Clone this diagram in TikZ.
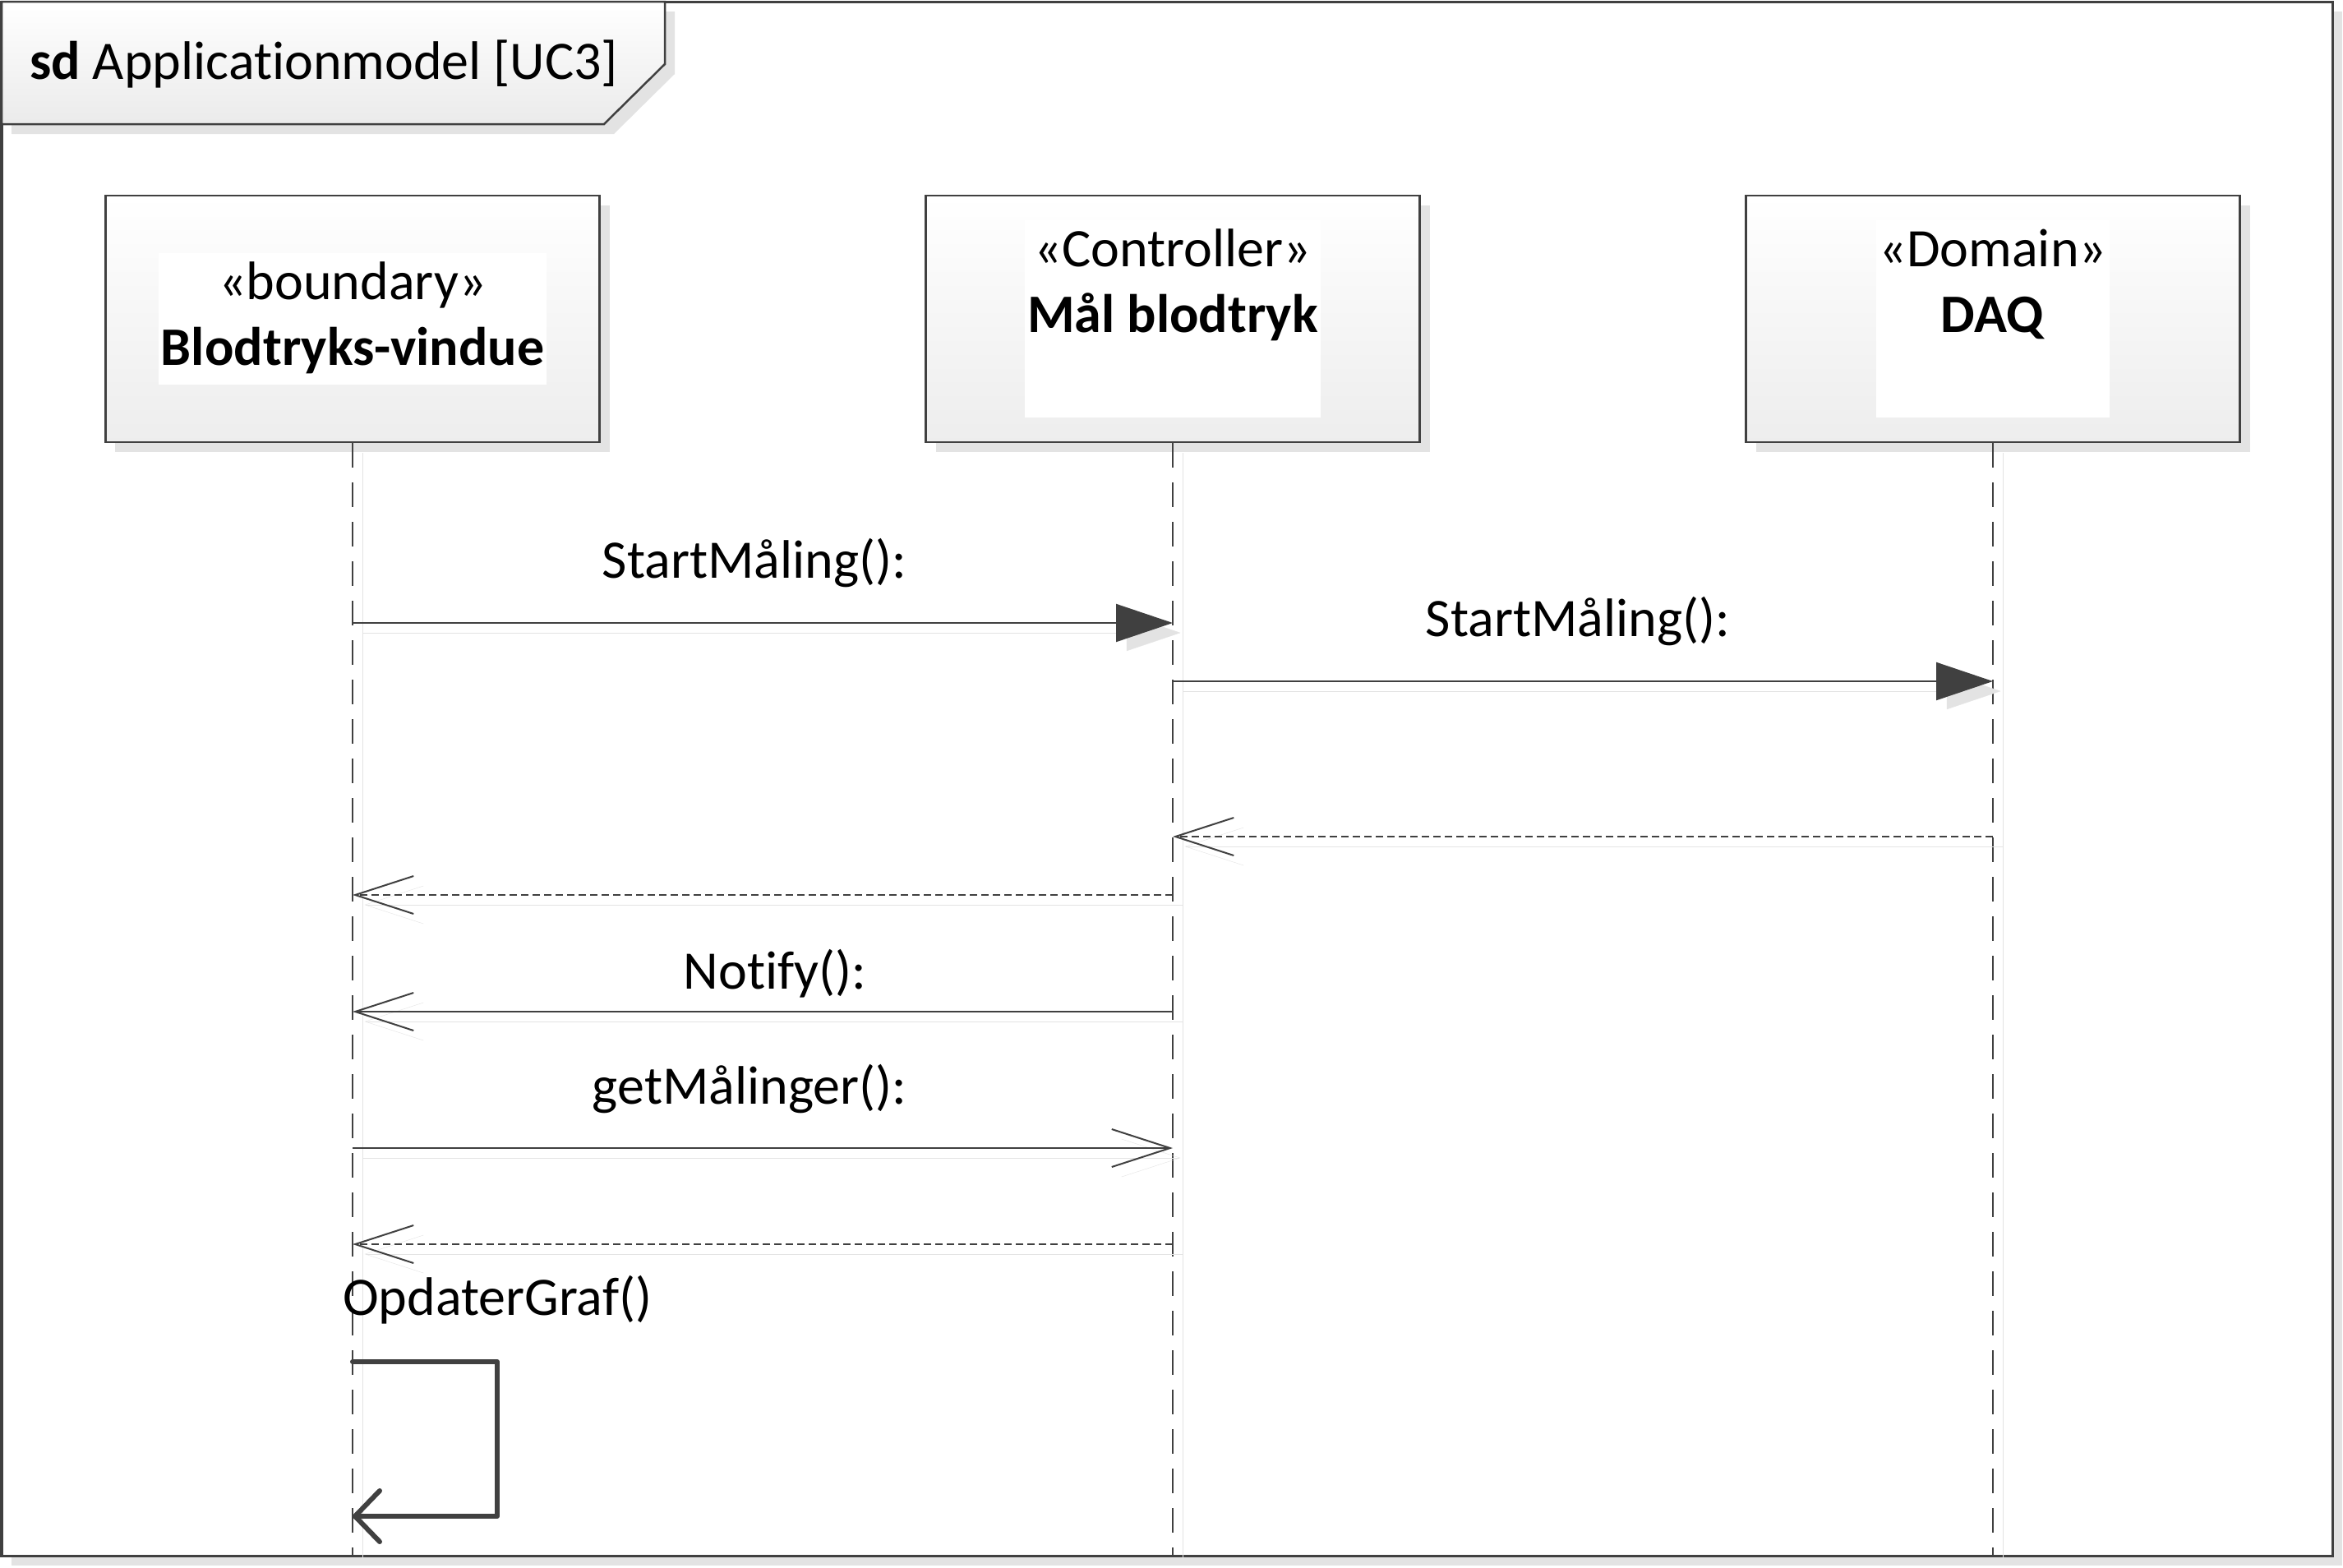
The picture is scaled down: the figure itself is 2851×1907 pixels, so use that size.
\documentclass[tikz,border=0pt]{standalone}
\usepackage{fontspec}
\setmainfont{Carlito}[Ligatures=NoCommon]
\usetikzlibrary{arrows.meta,positioning}

\definecolor{umlline}{HTML}{404040}
\definecolor{umlshade}{HTML}{E3E3E3}

\tikzset{
  boxshadow/.style={preaction={fill=umlshade,draw=none,transform canvas={xshift=12bp,yshift=-12bp}}},
  lineshadow/.style={preaction={draw=umlshade,transform canvas={xshift=12bp,yshift=-12bp}}},
  frame/.style={draw=umlline,line width=3bp,boxshadow},
  headbox/.style={draw=umlline,line width=2.5bp,top color=white,bottom color=black!7,
    minimum width=601bp,minimum height=300bp,inner sep=0bp,boxshadow},
  tag/.style={fill=white,align=center,inner xsep=3bp,inner ysep=0bp},
  msg/.style={anchor=base,inner sep=0bp},
  lifeline/.style={draw=umlline,line width=2bp,dash pattern=on 30bp off 18bp,lineshadow},
  call/.style={draw=umlline,line width=2bp,lineshadow,-{Triangle[length=69bp,width=46bp]}},
  send/.style={draw=umlline,line width=2bp,lineshadow,-{Straight Barb[length=71bp,width=46bp]}},
  reply/.style={send,dash pattern=on 9bp off 5bp},
  selfcall/.style={draw=umlline,line width=6bp,line cap=round,line join=round,
    -{Straight Barb[length=30bp,width=62bp,round]}}
}

\begin{document}
\begin{tikzpicture}[x=1bp,y=-1bp,node distance=998bp,font=\fontsize{66bp}{80bp}\selectfont]
  \useasboundingbox (0,0) rectangle (2851,1907);

  \draw[frame,fill=white] (2,2) rectangle (2838,1893);
  \draw[frame,line width=2.5bp,top color=white,bottom color=black!8]
    (2,2) -- (809,2) -- (809,78) -- (735,151) -- (2,151) -- cycle;
  \node[anchor=base west,inner sep=0bp] (title) at (36,96) {\textbf{sd} Applicationmodel [UC3]};
  \coordinate (fb) at (0,1893);

  \node[headbox] (bv) at (429,388) {};
  \node[headbox] (mb) [right of=bv] {};
  \node[headbox] (daq) [right of=mb] {};

  \node[tag] (bvtag) at (bv) {«boundary»\strut\\\textbf{Blodtryks-vindue}\strut};
  \node[tag] (mbtag) at (mb) {«Controller»\strut\\\textbf{Mål blodtryk}\strut\\\strut};
  \node[tag] (daqtag) at (daq) {«Domain»\strut\\\textbf{DAQ}\strut\\\strut};

  \foreach \h in {bv,mb,daq}
    \draw[lifeline] (\h.south) -- (\h |- fb);

  \coordinate (m1) at (0,758);
  \coordinate (m2) at (0,829);
  \coordinate (r1) at (0,1018);
  \coordinate (r2) at (0,1089);
  \coordinate (m3) at (0,1231);
  \coordinate (m4) at (0,1397);
  \coordinate (r3) at (0,1514);
  \coordinate (s1) at (605,1657);
  \coordinate (s2) at (605,1845);

  \node[msg] (start1) at (918,703) {StartMåling():};
  \node[msg] (start2) at (1920,774) {StartMåling():};
  \node[msg] (notify) at (943,1203) {Notify():};
  \node[msg] (getm) at (912,1343) {getMålinger():};
  \node[msg,anchor=base west] (upd) at (417,1600) {OpdaterGraf()};

  \draw[call] (bv |- m1) -- (mb |- m1);
  \draw[call] (mb |- m2) -- (daq |- m2);
  \draw[reply] (daq |- r1) -- (mb |- r1);
  \draw[reply] (mb |- r2) -- (bv |- r2);
  \draw[send] (mb |- m3) -- (bv |- m3);
  \draw[send] (bv |- m4) -- (mb |- m4);
  \draw[reply] (mb |- r3) -- (bv |- r3);
  \draw[selfcall] (bv |- s1) -- (s1) -- (s2) -- (bv |- s2);
\end{tikzpicture}
\end{document}
